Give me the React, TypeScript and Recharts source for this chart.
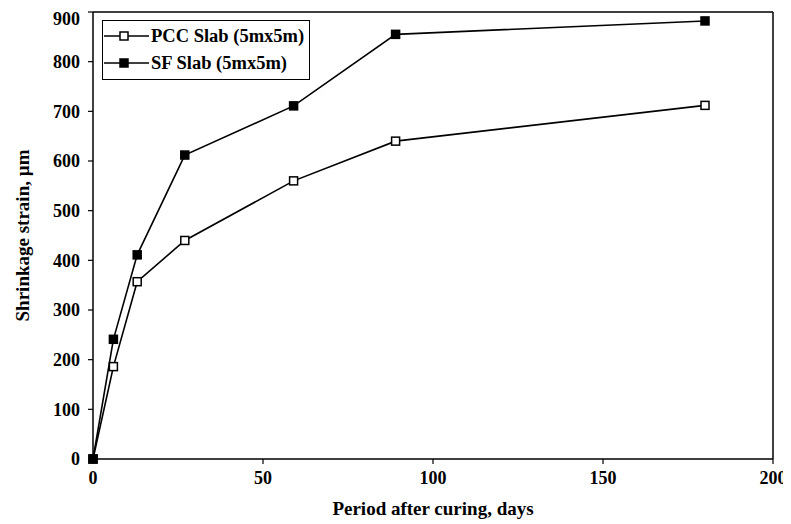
import React from "react";
import { LineChart, Line, XAxis, YAxis, ReferenceLine } from "recharts";

const days = [0, 6, 13, 27, 59, 89, 180];
const pccStrain = [0, 186, 357, 440, 560, 640, 712];
const sfStrain = [0, 241, 411, 612, 711, 855, 882];
const xTicks = [0, 50, 100, 150, 200];
const yTicks = [0, 100, 200, 300, 400, 500, 600, 700, 800, 900];
const seriesNames = ["PCC Slab (5mx5m)", "SF Slab (5mx5m)"];

const data = days.map((d, i) => ({ x: d, pcc: pccStrain[i], sf: sfStrain[i] }));

const FONT = "'Liberation Serif', 'Times New Roman', serif";

const SquareDot = (filled: boolean) => (props: any) => {
  const { cx, cy, index } = props;
  if (cx == null || cy == null) return <g key={index} />;
  return (
    <rect
      key={index}
      x={cx - 4}
      y={cy - 4}
      width={8}
      height={8}
      fill={filled ? "#000" : "#fff"}
      stroke="#000"
      strokeWidth={1.5}
    />
  );
};

const LegendBox = () => (
  <div
    style={{
      position: "absolute",
      left: 94,
      top: 12,
      width: 208,
      height: 60,
      border: "1.6px solid #000",
      background: "#fff",
      boxSizing: "border-box",
      fontFamily: FONT,
    }}
  >
    <svg width={206} height={58} style={{ display: "block" }}>
      {seriesNames.map((name, i) => {
        const y = 15 + i * 27;
        return (
          <g key={name}>
            <line x1={1} x2={46} y1={y} y2={y} stroke="#000" strokeWidth={1.5} />
            <rect
              x={17}
              y={y - 4}
              width={8}
              height={8}
              fill={i === 1 ? "#000" : "#fff"}
              stroke="#000"
              strokeWidth={1.5}
            />
            <text x={48} y={y + 6} fontSize={18.5} fontWeight="bold" fontFamily={FONT} fill="#000">
              {name}
            </text>
          </g>
        );
      })}
    </svg>
  </div>
);

export default function App() {
  return (
    <div style={{ width: 783, height: 516, position: "relative" }}>
      <LineChart
        width={783}
        height={516}
        data={data}
        margin={{ top: 4, right: 18, left: 0, bottom: 0 }}
      >
        <XAxis
          dataKey="x"
          type="number"
          domain={[0, 200]}
          ticks={xTicks}
          tickSize={5}
          tickMargin={7}
          height={65}
          axisLine={{ stroke: "#000", strokeWidth: 1.5 }}
          tickLine={{ stroke: "#000", strokeWidth: 1.2 }}
          tick={{ fill: "#000", fontSize: 18, fontWeight: "bold", fontFamily: FONT }}
          label={{
            value: "Period after curing, days",
            position: "insideBottom",
            offset: 9,
            fill: "#000",
            fontSize: 19,
            fontWeight: "bold",
            fontFamily: FONT,
          }}
        />
        <YAxis
          type="number"
          domain={[0, 900]}
          ticks={yTicks}
          width={85}
          tickSize={5}
          tickMargin={8}
          axisLine={{ stroke: "#000", strokeWidth: 1.5 }}
          tickLine={{ stroke: "#000", strokeWidth: 1.2 }}
          tick={{ fill: "#000", fontSize: 18, fontWeight: "bold", fontFamily: FONT }}
          label={{
            value: "Shrinkage strain, µm",
            angle: -90,
            position: "insideLeft",
            offset: 14,
            fill: "#000",
            fontSize: 19,
            fontWeight: "bold",
            fontFamily: FONT,
            style: { textAnchor: "middle" },
          }}
        />
        <ReferenceLine y={900} stroke="#000" strokeWidth={1.5} />
        <ReferenceLine x={200} stroke="#000" strokeWidth={1.5} />
        <Line
          dataKey="pcc"
          name={seriesNames[0]}
          stroke="#000"
          strokeWidth={1.6}
          dot={SquareDot(false)}
          isAnimationActive={false}
        />
        <Line
          dataKey="sf"
          name={seriesNames[1]}
          stroke="#000"
          strokeWidth={1.6}
          dot={SquareDot(true)}
          isAnimationActive={false}
        />
      </LineChart>
      <LegendBox />
    </div>
  );
}
